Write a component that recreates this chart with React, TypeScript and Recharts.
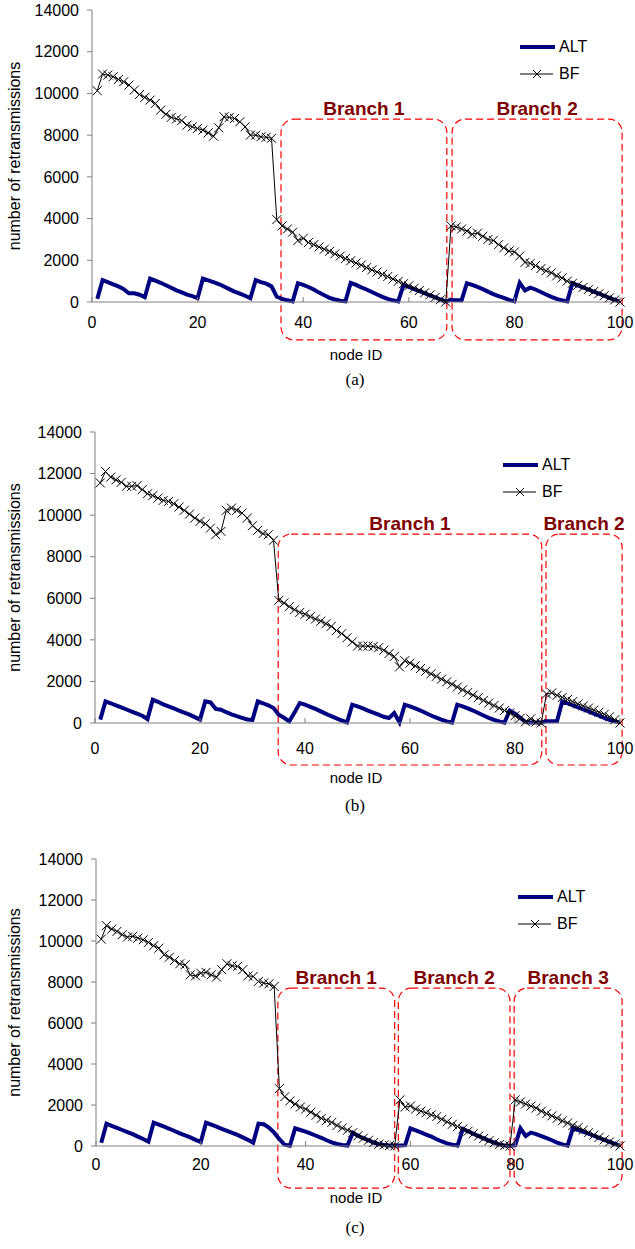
import React from 'react';
import { LineChart, Line, XAxis, YAxis, ReferenceArea, Legend } from 'recharts';

const nodeIds: number[] = Array.from({ length: 100 }, (_, i) => i + 1);
const xTicks = [0, 20, 40, 60, 80, 100];
const yTicks = [0, 2000, 4000, 6000, 8000, 10000, 12000, 14000];

const altA = [
  150, 1050, 950, 850, 750, 620, 420, 420, 350, 230,
  1120, 1020, 920, 800, 680, 560, 460, 350, 280, 190,
  1120, 1040, 950, 860, 740, 620, 500, 400, 300, 180,
  1050, 950, 880, 750, 250, 150, 80, 30, 900, 820,
  720, 600, 450, 320, 200, 120, 60, 30, 920, 820,
  700, 600, 480, 360, 250, 150, 80, 30, 820, 720,
  620, 520, 420, 320, 220, 120, 30, 100, 80, 80,
  900, 820, 720, 620, 500, 380, 280, 200, 100, 30,
  920, 560, 690, 600, 480, 360, 250, 150, 80, 30,
  900, 800, 700, 600, 500, 400, 300, 200, 100, 30,
];
const bfA = [
  10130, 10930, 10880, 10800, 10670, 10560, 10400, 10160, 9950, 9810,
  9680, 9520, 9200, 9000, 8850, 8780, 8700, 8480, 8400, 8320,
  8240, 8110, 7950, 8350, 8880, 8850, 8800, 8640, 8400, 8000,
  8000, 7920, 7900, 7850, 3950, 3650, 3500, 3350, 2950, 3050,
  2850, 2750, 2640, 2530, 2430, 2310, 2200, 2080, 1980, 1870,
  1770, 1650, 1540, 1440, 1320, 1220, 1100, 990, 880, 780,
  660, 550, 440, 340, 220, 110, 0, 3650, 3600, 3500,
  3400, 3250, 3300, 3150, 3000, 2950, 2750, 2600, 2450, 2400,
  2200, 1900, 1850, 1750, 1600, 1500, 1400, 1250, 1150, 1000,
  900, 800, 700, 600, 500, 400, 300, 200, 100, 0,
];
const altB = [
  160, 1040, 950, 850, 750, 650, 550, 450, 350, 190,
  1120, 1020, 900, 800, 700, 600, 500, 400, 280, 160,
  1040, 990, 680, 640, 520, 420, 330, 250, 170, 150,
  1040, 950, 850, 720, 400, 250, 80, 500, 960, 880,
  780, 680, 560, 440, 330, 220, 120, 30, 880, 800,
  700, 600, 500, 400, 300, 240, 480, 30, 880, 800,
  700, 600, 480, 360, 260, 160, 80, 20, 880, 800,
  700, 600, 480, 360, 250, 150, 80, 20, 600, 450,
  250, 50, 30, 30, 30, 80, 80, 80, 1040, 950,
  850, 750, 650, 560, 450, 350, 250, 150, 80, 30,
];
const bfB = [
  11550, 12100, 11830, 11700, 11580, 11390, 11390, 11420, 11230, 11030,
  10940, 10820, 10710, 10660, 10550, 10390, 10230, 10050, 9860, 9700,
  9590, 9380, 9060, 9220, 10230, 10340, 10230, 10100, 9860, 9490,
  9270, 9110, 9060, 8790, 5900, 5780, 5600, 5450, 5320, 5230,
  5120, 5000, 4900, 4780, 4650, 4450, 4300, 4100, 3900, 3700,
  3700, 3700, 3680, 3620, 3500, 3340, 3200, 2700, 3000, 2880,
  2750, 2620, 2490, 2370, 2240, 2110, 1980, 1860, 1730, 1600,
  1470, 1340, 1220, 1090, 960, 840, 720, 600, 480, 350,
  230, 60, 200, 50, 0, 1400, 1450, 1330, 1230, 1130,
  1030, 920, 820, 720, 620, 520, 420, 300, 160, 0,
];
const altC = [
  160, 1090, 980, 880, 780, 680, 580, 460, 340, 210,
  1140, 1040, 940, 840, 730, 620, 520, 420, 300, 190,
  1140, 1040, 940, 840, 740, 640, 540, 420, 300, 160,
  1090, 1060, 900, 650, 330, 60, 10, 860, 780, 700,
  600, 500, 400, 280, 180, 100, 50, 20, 650, 500,
  380, 280, 170, 90, 50, 20, 20, 30, 40, 860,
  760, 660, 560, 460, 330, 220, 130, 60, 20, 830,
  720, 600, 480, 370, 260, 160, 80, 20, 10, 30,
  860, 490, 650, 580, 480, 380, 280, 170, 80, 20,
  860, 780, 690, 600, 500, 400, 300, 200, 100, 20,
];
const bfC = [
  10090, 10750, 10580, 10470, 10310, 10190, 10230, 10140, 10060, 9930,
  9770, 9650, 9330, 9210, 9050, 8890, 8840, 8350, 8300, 8430,
  8470, 8350, 8240, 8600, 8890, 8790, 8760, 8600, 8300, 8270,
  8030, 7950, 7910, 7780, 2800, 2400, 2200, 2050, 1900, 1800,
  1650, 1500, 1350, 1250, 1150, 1000, 880, 770, 650, 500,
  380, 280, 170, 90, 50, 20, 0, 2250, 1900, 1950,
  1800, 1700, 1620, 1520, 1430, 1300, 1180, 1060, 950, 830,
  720, 600, 480, 370, 260, 160, 80, 20, 0, 2250,
  2150, 2050, 1950, 1850, 1700, 1580, 1470, 1350, 1230, 1120,
  1000, 900, 780, 650, 530, 420, 300, 200, 100, 0,
];

// branch boxes: [label, x1, x2]
const branchesA: [string, number, number][] = [
  ['Branch 1', 35.8, 67.2],
  ['Branch 2', 68.2, 100.4],
];
const branchesB: [string, number, number][] = [
  ['Branch 1', 34.9, 85.1],
  ['Branch 2', 85.9, 100.4],
];
const branchesC: [string, number, number][] = [
  ['Branch 1', 34.7, 57.0],
  ['Branch 2', 57.7, 79.0],
  ['Branch 3', 79.8, 100.4],
];

const FONT = '"Liberation Sans", Arial, sans-serif';
const ALT_COLOR = '#000080';

const XMark = (props: any) => {
  const { cx, cy, index } = props;
  if (cx == null || cy == null) return <g key={`x-${index}`} />;
  const s = 4.5;
  return (
    <path
      key={`x-${index}`}
      d={`M${cx - s},${cy - s}L${cx + s},${cy + s}M${cx - s},${cy + s}L${cx + s},${cy - s}`}
      stroke="#000"
      strokeWidth={1}
      fill="none"
    />
  );
};

const BoxShape = (props: any) => {
  const { x, y, width, height } = props;
  return (
    <rect
      x={x}
      y={y}
      width={width}
      height={height}
      rx={13}
      ry={13}
      fill="none"
      stroke="#FF0000"
      strokeWidth={1.2}
      strokeDasharray="7 4"
    />
  );
};

const LegendContent = () => (
  <div style={{ fontFamily: FONT, fontSize: 16, color: '#000', lineHeight: '27px' }}>
    <div style={{ display: 'flex', alignItems: 'center', height: 27 }}>
      <svg width={36} height={12} style={{ marginRight: 3 }}>
        <line x1={0} y1={6} x2={35} y2={6} stroke={ALT_COLOR} strokeWidth={4} />
      </svg>
      <span>ALT</span>
    </div>
    <div style={{ display: 'flex', alignItems: 'center', height: 27 }}>
      <svg width={36} height={12} style={{ marginRight: 3 }}>
        <line x1={0} y1={6} x2={33} y2={6} stroke="#000" strokeWidth={1} />
        <path d="M13,2L21,10M13,10L21,2" stroke="#000" strokeWidth={1} />
      </svg>
      <span>BF</span>
    </div>
  </div>
);

type PanelProps = {
  top: number;
  alt: number[];
  bf: number[];
  branches: [string, number, number][];
  marginTop: number;
  marginBottom: number;
  yAxisWidth: number;
  boxTop: number;
  boxBottom: number;
  tickMargin: number;
  legendLeft: number;
  legendTop: number;
  nodeLabelTop: number;
  captionTop: number;
  caption: string;
};

const Panel = (p: PanelProps) => {
  const data = nodeIds.map((id, i) => ({ id, alt: p.alt[i], bf: p.bf[i] }));
  return (
    <div style={{ position: 'absolute', left: 0, top: p.top, width: 635, height: 420 }}>
      <LineChart
        width={635}
        height={400}
        data={data}
        margin={{ top: p.marginTop, right: 15, bottom: p.marginBottom, left: 0 }}
        style={{ fontFamily: FONT }}
      >
        <XAxis
          dataKey="id"
          type="number"
          domain={[0, 100]}
          ticks={xTicks}
          height={30}
          tickSize={-5}
          tickMargin={p.tickMargin}
          stroke="#808080"
          tick={{ fill: '#000', fontSize: 16, fontFamily: FONT }}
          interval={0}
        />
        <YAxis
          type="number"
          domain={[0, 14000]}
          ticks={yTicks}
          width={p.yAxisWidth}
          tickSize={5}
          tickMargin={8}
          stroke="#808080"
          tick={{ fill: '#000', fontSize: 16, fontFamily: FONT }}
          interval={0}
          label={{
            value: 'number of retransmissions',
            angle: -90,
            position: 'insideLeft',
            offset: 14,
            fill: '#000',
            fontSize: 16,
            fontFamily: FONT,
            style: { textAnchor: 'middle' },
          }}
        />
        {p.branches.map(([name, x1, x2]) => (
          <ReferenceArea
            key={name}
            x1={x1}
            x2={x2}
            y1={p.boxBottom}
            y2={p.boxTop}
            ifOverflow="visible"
            shape={BoxShape}
            label={{
              value: name,
              position: 'top',
              offset: 4,
              fill: '#800000',
              fontSize: 19,
              fontWeight: 'bold',
              fontFamily: FONT,
            }}
          />
        ))}
        <Legend
          layout="vertical"
          align="center"
          verticalAlign="middle"
          content={LegendContent}
          wrapperStyle={{ left: p.legendLeft, top: p.legendTop, width: 110, bottom: 'auto', right: 'auto' }}
        />
        <Line
          type="linear"
          dataKey="alt"
          stroke={ALT_COLOR}
          strokeWidth={4}
          dot={false}
          activeDot={false}
          isAnimationActive={false}
        />
        <Line
          type="linear"
          dataKey="bf"
          stroke="#000"
          strokeWidth={1}
          dot={XMark}
          activeDot={false}
          isAnimationActive={false}
        />
      </LineChart>
      <div
        style={{
          position: 'absolute',
          left: 256,
          width: 200,
          top: p.nodeLabelTop,
          textAlign: 'center',
          fontFamily: FONT,
          fontSize: 15,
          lineHeight: '18px',
        }}
      >
        node ID
      </div>
      <div
        style={{
          position: 'absolute',
          left: 255,
          width: 200,
          top: p.captionTop,
          textAlign: 'center',
          fontFamily: '"Liberation Serif", "Times New Roman", serif',
          fontSize: 17,
          lineHeight: '18px',
        }}
      >
        {p.caption}
      </div>
    </div>
  );
};

export default function App() {
  return (
    <div style={{ position: 'absolute', left: 0, top: 0, width: 635, height: 1249, background: '#fff' }}>
      <Panel
        top={0}
        alt={altA}
        bf={bfA}
        branches={branchesA}
        marginTop={10}
        marginBottom={68}
        yAxisWidth={92}
        boxTop={8770}
        boxBottom={-1820}
        tickMargin={20}
        legendLeft={520}
        legendTop={33}
        nodeLabelTop={346}
        captionTop={371}
        caption="(a)"
      />
      <Panel
        top={420}
        alt={altB}
        bf={bfB}
        branches={branchesB}
        marginTop={12}
        marginBottom={67}
        yAxisWidth={95}
        boxTop={9090}
        boxBottom={-2020}
        tickMargin={25}
        legendLeft={503}
        legendTop={31}
        nodeLabelTop={349}
        captionTop={377}
        caption="(b)"
      />
      <Panel
        top={840}
        alt={altC}
        bf={bfC}
        branches={branchesC}
        marginTop={19}
        marginBottom={64}
        yAxisWidth={96}
        boxTop={7700}
        boxBottom={-2050}
        tickMargin={18}
        legendLeft={518}
        legendTop={43}
        nodeLabelTop={349}
        captionTop={379}
        caption="(c)"
      />
    </div>
  );
}
